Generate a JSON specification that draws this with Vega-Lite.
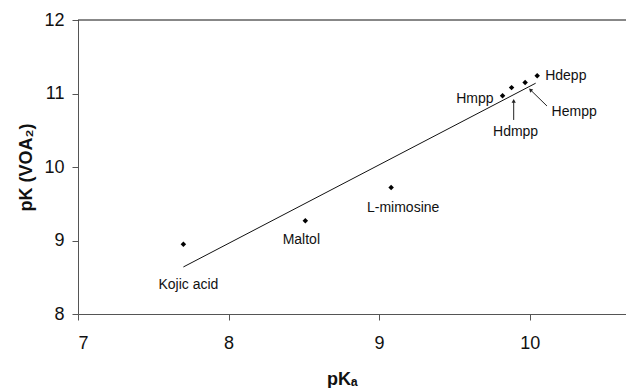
{
  "$schema": "https://vega.github.io/schema/vega-lite/v6.json",
  "width": 548,
  "height": 294,
  "autosize": {"type": "none"},
  "padding": {"left": 78, "top": 20, "right": 0, "bottom": 74},
  "background": "white",
  "config": {
    "font": "Liberation Sans",
    "view": {"stroke": null},
    "axis": {"grid": false, "domainColor": "#555555", "tickColor": "#555555", "tickSize": 6, "labelFontSize": 18, "labelColor": "#111111", "titleFontSize": 18, "titleFontWeight": "bold", "titleColor": "#111111"}
  },
  "datasets": {
    "points": [
      {"compound": "Kojic acid", "pKa": 7.70, "pK": 8.95},
      {"compound": "Maltol", "pKa": 8.51, "pK": 9.27},
      {"compound": "L-mimosine", "pKa": 9.08, "pK": 9.72},
      {"compound": "Hmpp", "pKa": 9.82, "pK": 10.97},
      {"compound": "Hdmpp", "pKa": 9.88, "pK": 11.08},
      {"compound": "Hempp", "pKa": 9.97, "pK": 11.15},
      {"compound": "Hdepp", "pKa": 10.05, "pK": 11.24}
    ],
    "fit": [
      {"pKa": 7.70, "pK": 8.64},
      {"pKa": 10.04, "pK": 11.14}
    ],
    "arrows": [
      {"label": "Hdmpp", "x": 9.894, "y": 10.64, "x2": 9.894, "y2": 10.90},
      {"label": "Hempp", "x": 10.115, "y": 10.83, "x2": 10.005, "y2": 11.05}
    ],
    "top": [{"pK": 12}]
  },
  "layer": [
    {
      "data": {"name": "top"},
      "mark": {"type": "rule", "color": "#111111", "strokeWidth": 1},
      "encoding": {"y": {"field": "pK", "type": "quantitative"}}
    },
    {
      "data": {"name": "fit"},
      "mark": {"type": "line", "color": "#111111", "strokeWidth": 1},
      "encoding": {
        "x": {"field": "pKa", "type": "quantitative", "scale": {"domain": [7, 10.64], "nice": false, "zero": false},
          "axis": {"values": [7, 8, 9, 10], "format": "d", "title": "pKₐ", "labelPadding": 14, "titlePadding": 18, "titleX": 264}},
        "y": {"field": "pK", "type": "quantitative", "scale": {"domain": [8, 12], "nice": false, "zero": false},
          "axis": {"values": [8, 9, 10, 11, 12], "format": "d", "title": "pK (VOA₂)", "labelPadding": 8, "titlePadding": 8}}
      }
    },
    {
      "data": {"name": "points"},
      "mark": {"type": "point", "shape": "diamond", "filled": true, "color": "#000000", "size": 30, "opacity": 1},
      "encoding": {
        "x": {"field": "pKa", "type": "quantitative"},
        "y": {"field": "pK", "type": "quantitative"}
      }
    },
    {
      "data": {"name": "arrows"},
      "mark": {"type": "rule", "color": "#222222", "strokeWidth": 1},
      "encoding": {
        "x": {"field": "x", "type": "quantitative"},
        "y": {"field": "y", "type": "quantitative"},
        "x2": {"field": "x2"},
        "y2": {"field": "y2"}
      }
    },
    {
      "data": {"name": "arrows"},
      "transform": [{"filter": "datum.label == 'Hdmpp'"}],
      "mark": {"type": "point", "shape": "triangle-up", "filled": true, "color": "#222222", "size": 18, "opacity": 1},
      "encoding": {"x": {"field": "x2", "type": "quantitative"}, "y": {"field": "y2", "type": "quantitative"}}
    },
    {
      "data": {"name": "arrows"},
      "transform": [{"filter": "datum.label == 'Hempp'"}],
      "mark": {"type": "point", "shape": "triangle-up", "filled": true, "color": "#222222", "size": 18, "opacity": 1, "angle": 314},
      "encoding": {"x": {"field": "x2", "type": "quantitative"}, "y": {"field": "y2", "type": "quantitative"}}
    },
    {
      "data": {"name": "points"},
      "transform": [{"filter": "datum.compound == 'Kojic acid'"}],
      "mark": {"type": "text", "fontSize": 14, "color": "#111111", "dx": 5, "dy": 41},
      "encoding": {"x": {"field": "pKa", "type": "quantitative"}, "y": {"field": "pK", "type": "quantitative"}, "text": {"field": "compound"}}
    },
    {
      "data": {"name": "points"},
      "transform": [{"filter": "datum.compound == 'Maltol'"}],
      "mark": {"type": "text", "fontSize": 14, "color": "#111111", "dx": -4, "dy": 19},
      "encoding": {"x": {"field": "pKa", "type": "quantitative"}, "y": {"field": "pK", "type": "quantitative"}, "text": {"field": "compound"}}
    },
    {
      "data": {"name": "points"},
      "transform": [{"filter": "datum.compound == 'L-mimosine'"}],
      "mark": {"type": "text", "fontSize": 14, "color": "#111111", "dx": 12, "dy": 20},
      "encoding": {"x": {"field": "pKa", "type": "quantitative"}, "y": {"field": "pK", "type": "quantitative"}, "text": {"field": "compound"}}
    },
    {
      "data": {"name": "points"},
      "transform": [{"filter": "datum.compound == 'Hmpp'"}],
      "mark": {"type": "text", "fontSize": 14, "color": "#111111", "align": "right", "dx": -9, "dy": 3},
      "encoding": {"x": {"field": "pKa", "type": "quantitative"}, "y": {"field": "pK", "type": "quantitative"}, "text": {"field": "compound"}}
    },
    {
      "data": {"name": "points"},
      "transform": [{"filter": "datum.compound == 'Hdmpp'"}],
      "mark": {"type": "text", "fontSize": 14, "color": "#111111", "dx": 4, "dy": 44},
      "encoding": {"x": {"field": "pKa", "type": "quantitative"}, "y": {"field": "pK", "type": "quantitative"}, "text": {"field": "compound"}}
    },
    {
      "data": {"name": "points"},
      "transform": [{"filter": "datum.compound == 'Hempp'"}],
      "mark": {"type": "text", "fontSize": 14, "color": "#111111", "dx": 49, "dy": 30},
      "encoding": {"x": {"field": "pKa", "type": "quantitative"}, "y": {"field": "pK", "type": "quantitative"}, "text": {"field": "compound"}}
    },
    {
      "data": {"name": "points"},
      "transform": [{"filter": "datum.compound == 'Hdepp'"}],
      "mark": {"type": "text", "fontSize": 14, "color": "#111111", "align": "left", "dx": 8, "dy": 0},
      "encoding": {"x": {"field": "pKa", "type": "quantitative"}, "y": {"field": "pK", "type": "quantitative"}, "text": {"field": "compound"}}
    }
  ]
}
